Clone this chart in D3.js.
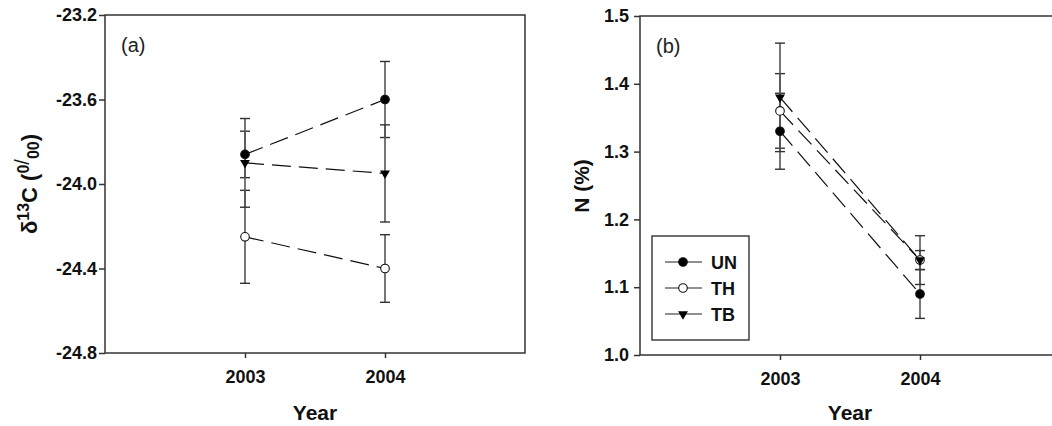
<!DOCTYPE html>
<html><head><meta charset="utf-8">
<script src="https://cdn.jsdelivr.net/npm/d3@7"></script>
<style>
html,body{margin:0;padding:0;background:#fff;}
svg{display:block;}
text{font-family:"Liberation Sans",Arial,Helvetica,sans-serif;}
</style></head>
<body><svg id="c" width="1052" height="426"></svg>
<script>
const years = [2003, 2004];
const seriesNames = ["UN", "TH", "TB"];
// Panel (a): delta 13C
const d13C_UN = [-23.86, -23.60];
const d13C_UN_err = [0.11, 0.18];
const d13C_TH = [-24.25, -24.40];
const d13C_TH_err = [0.22, 0.16];
const d13C_TB = [-23.90, -23.95];
const d13C_TB_err = [0.21, 0.23];
// Panel (b): N (%)
const N_UN = [1.33, 1.09];
const N_UN_err = [0.056, 0.036];
const N_TH = [1.36, 1.14];
const N_TH_err = [0.055, 0.036];
const N_TB = [1.38, 1.14];
const N_TB_err = [0.08, 0.014];
const yTicksA = [-23.2, -23.6, -24.0, -24.4, -24.8];
const yTicksB = [1.0, 1.1, 1.2, 1.3, 1.4, 1.5];
const xTicks = [2003, 2004];

const svg = d3.select("#c");
const symbols = {UN: "filled", TH: "open", TB: "tri"};

function panel(opts) {
  const {left, right, top, bottom, yDomain, yTicks, yFmt, series, label, yPad} = opts;
  const x = d3.scaleLinear().domain([2002, 2005]).range([left, right]);
  const y = d3.scaleLinear().domain(yDomain).range([bottom, top]);
  const g = svg.append("g");

  g.append("rect").attr("x", left).attr("y", top).attr("width", right - left).attr("height", bottom - top)
    .attr("fill", "none").attr("stroke", "#333").attr("stroke-width", 1.5);

  const ya = g.append("g").attr("transform", `translate(${left},0)`)
    .call(d3.axisLeft(y).tickValues(yTicks).tickFormat(yFmt).tickSize(6).tickPadding(yPad));
  ya.select(".domain").remove();
  ya.selectAll("line").attr("stroke", "#333").attr("stroke-width", 1.5);
  ya.selectAll("text").attr("font-size", 18).attr("font-weight", "bold").attr("fill", "#111");

  const xa = g.append("g").attr("transform", `translate(0,${bottom})`)
    .call(d3.axisBottom(x).tickValues(xTicks).tickFormat(d3.format("d")).tickSize(5).tickPadding(12));
  xa.select(".domain").remove();
  xa.selectAll("line").attr("stroke", "#333").attr("stroke-width", 1.5);
  xa.selectAll("text").attr("font-size", 18).attr("font-weight", "bold").attr("fill", "#111");

  g.append("text").attr("x", (left + right) / 2).attr("y", 420)
    .attr("text-anchor", "middle").attr("font-size", 21).attr("font-weight", "bold").attr("fill", "#111")
    .text("Year");

  g.append("text").attr("x", left + 16).attr("y", top + 37).attr("font-size", 20).attr("fill", "#222").text(label);

  series.forEach(s => {
    s.vals.forEach((v, i) => {
      const xx = x(years[i]);
      const e = s.err[i];
      g.append("line").attr("x1", xx).attr("x2", xx).attr("y1", y(v - e)).attr("y2", y(v + e))
        .attr("stroke", "#555").attr("stroke-width", 1.6);
      [v - e, v + e].forEach(c => {
        g.append("line").attr("x1", xx - 5).attr("x2", xx + 5).attr("y1", y(c)).attr("y2", y(c))
          .attr("stroke", "#333").attr("stroke-width", 1.4);
      });
    });
  });

  const line = d3.line().x((d, i) => x(years[i])).y(d => y(d));
  series.forEach(s => {
    g.append("path").attr("d", line(s.vals)).attr("fill", "none").attr("stroke", "#111")
      .attr("stroke-width", 1.2).attr("stroke-dasharray", "19,8");
  });

  series.forEach(s => {
    s.vals.forEach((v, i) => drawMarker(g, symbols[s.name], x(years[i]), y(v)));
  });
  return {x, y, g};
}

function drawMarker(g, type, cx, cy) {
  if (type === "tri") {
    g.append("path").attr("d", d3.symbol().type(d3.symbolTriangle).size(42)())
      .attr("transform", `translate(${cx},${cy}) rotate(180)`).attr("fill", "#000");
  } else {
    g.append("circle").attr("cx", cx).attr("cy", cy).attr("r", 4.3)
      .attr("fill", type === "filled" ? "#000" : "#fff").attr("stroke", "#111").attr("stroke-width", 1.1);
  }
}

const pa = panel({
  left: 105, right: 525, top: 15, bottom: 353, yPad: 2,
  yDomain: [-24.8, -23.2], yTicks: yTicksA, yFmt: d3.format(".1f"),
  label: "(a)",
  series: [
    {name: "UN", vals: d13C_UN, err: d13C_UN_err},
    {name: "TH", vals: d13C_TH, err: d13C_TH_err},
    {name: "TB", vals: d13C_TB, err: d13C_TB_err}
  ]
});
pa.g.selectAll(".tick text").filter(function(){return this.textContent.startsWith("−");})
  .text(function(){return "-" + this.textContent.slice(1);});

const ta = pa.g.append("text").attr("transform", "translate(37,184) rotate(-90)")
  .attr("text-anchor", "middle").attr("font-size", 22).attr("font-weight", "bold").attr("fill", "#111");
ta.append("tspan").text("δ");
ta.append("tspan").attr("dy", -8).attr("font-size", 16).text("13");
ta.append("tspan").attr("dy", 8).text("C (");
ta.append("tspan").attr("dy", -8).attr("font-size", 16).text("0");
ta.append("tspan").attr("dy", 0).attr("font-size", 20).attr("font-weight", "normal").text("/");
ta.append("tspan").attr("dy", 10).attr("font-size", 16).text("00");
ta.append("tspan").attr("dy", -2).text(")");

const pb = panel({
  left: 640, right: 1060, top: 16, bottom: 355, yPad: 5,
  yDomain: [1.0, 1.5], yTicks: yTicksB, yFmt: d3.format(".1f"),
  label: "(b)",
  series: [
    {name: "UN", vals: N_UN, err: N_UN_err},
    {name: "TH", vals: N_TH, err: N_TH_err},
    {name: "TB", vals: N_TB, err: N_TB_err}
  ]
});
pb.g.selectAll("text").filter(function(){return this.textContent === "Year";}).attr("x", 850);
pb.g.append("text").attr("transform", "translate(589,186) rotate(-90)")
  .attr("text-anchor", "middle").attr("font-size", 21).attr("font-weight", "bold").attr("fill", "#111").text("N (%)");

const lg = svg.append("g");
lg.append("rect").attr("x", 652).attr("y", 236).attr("width", 97).attr("height", 104)
  .attr("fill", "#fff").attr("stroke", "#333").attr("stroke-width", 1.4);
seriesNames.forEach((n, i) => {
  const yy = 262 + i * 26;
  lg.append("line").attr("x1", 665).attr("x2", 702).attr("y1", yy).attr("y2", yy).attr("stroke", "#222").attr("stroke-width", 1.2);
  drawMarker(lg, symbols[n], 683, yy);
  lg.append("text").attr("x", 711).attr("y", yy + 6.5).attr("font-size", 18).attr("font-weight", "bold").attr("fill", "#111").text(n);
});
</script></body></html>
